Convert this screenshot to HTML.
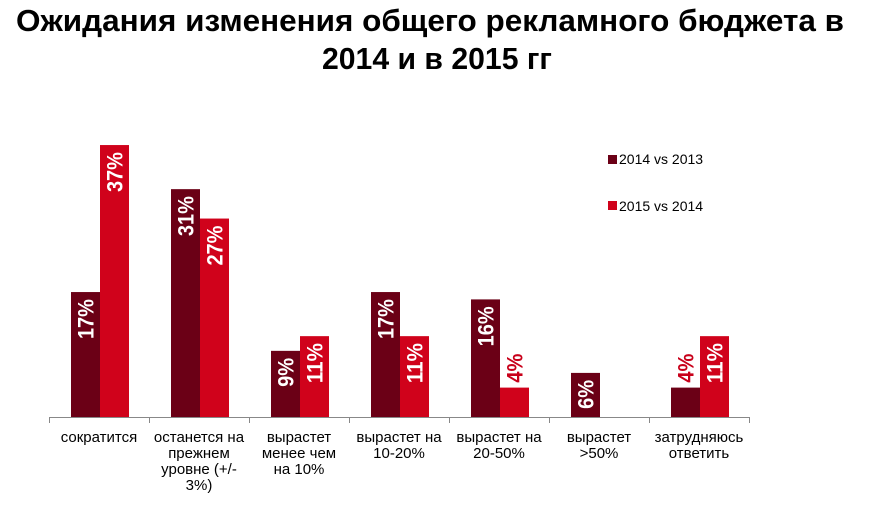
<!DOCTYPE html>
<html><head><meta charset="utf-8"><style>
html,body{margin:0;padding:0;background:#fff;}
svg{display:block;font-family:"Liberation Sans",Arial,sans-serif;}
</style></head><body>
<svg id="chart" width="891" height="508" viewBox="0 0 891 508" xmlns="http://www.w3.org/2000/svg">
<text x="430" y="31" text-anchor="middle" font-size="31" font-weight="bold" textLength="828" lengthAdjust="spacingAndGlyphs" fill="#000">Ожидания изменения общего рекламного бюджета в</text>
<text x="437" y="69" text-anchor="middle" font-size="31" font-weight="bold" textLength="230" lengthAdjust="spacingAndGlyphs" fill="#000">2014 и в 2015 гг</text>
<g id="plot"></g>
<g>
<rect x="608" y="155" width="9" height="9" fill="#6b0016"/>
<text x="619" y="164" font-size="14" fill="#000">2014 vs 2013</text>
<rect x="608" y="201" width="9" height="9" fill="#d0021b"/>
<text x="619" y="211" font-size="14" fill="#000">2015 vs 2014</text>
</g>
</svg>
<script>
const categories = [
  ["сократится"],
  ["останется на","прежнем","уровне (+/-","3%)"],
  ["вырастет","менее чем","на 10%"],
  ["вырастет на","10-20%"],
  ["вырастет на","20-50%"],
  ["вырастет",">50%"],
  ["затрудняюсь","ответить"]
];
const series2014 = [17, 31, 9, 17, 16, 6, 4];
const series2015 = [37, 27, 11, 11, 4, 0, 11];
const valueLabels2014 = ["17%","31%","9%","17%","16%","6%","4%"];
const valueLabels2015 = ["37%","27%","11%","11%","4%","","11%"];

const NS = "http://www.w3.org/2000/svg";
const plot = document.getElementById('plot');
const x0 = 49, groupW = 100, baseY = 417, pxPer = 7.35;
function xScale(i){ return x0 + i*groupW; }
function yScale(v){ return baseY - v*pxPer; }
function mk(tag, attrs){ const e = document.createElementNS(NS, tag); for (const k in attrs) e.setAttribute(k, attrs[k]); plot.appendChild(e); return e; }

function drawBar(i, v, lab, off, color, name){
  if (!v) return;
  const x = xScale(i) + off, y = yScale(v), w = 29;
  const r = mk('rect', {x: x, y: y, width: w, height: baseY - y, fill: color});
  
  
  const inside = v >= 5;
  const ty = inside ? y + 7 : y - 5;
  const tx = x + w/2 + 8;
  const len = lab.length === 3 ? 40 : 29;
  const t = mk('text', {x: tx, y: ty, transform: 'rotate(-90 ' + tx + ' ' + ty + ')', 'text-anchor': inside ? 'end' : 'start', 'font-size': 22, 'font-weight': 'bold', textLength: len, lengthAdjust: 'spacingAndGlyphs', fill: inside ? '#fff' : '#c8001a'});
  t.textContent = lab;
  
  
}

const axis = mk('line', {x1: x0, y1: baseY + 0.5, x2: xScale(categories.length), y2: baseY + 0.5, stroke: '#888', 'stroke-width': 1});


for (let i = 0; i <= categories.length; i++){
  const tk = mk('line', {x1: xScale(i) + 0.5, y1: baseY, x2: xScale(i) + 0.5, y2: baseY + 6, stroke: '#888', 'stroke-width': 1});
  
  
}
categories.forEach((lines, i) => {
  drawBar(i, series2014[i], valueLabels2014[i], 22, '#6b0016', 'bar-2014');
  drawBar(i, series2015[i], valueLabels2015[i], 51, '#d0021b', 'bar-2015');
  const t = mk('text', {x: xScale(i) + groupW/2, y: 442, 'text-anchor': 'middle', 'font-size': 15, fill: '#000'});
  
  
  lines.forEach((ln, k) => {
    const s = document.createElementNS(NS, 'tspan');
    s.setAttribute('x', xScale(i) + groupW/2);
    s.setAttribute('dy', k === 0 ? 0 : 16);
    s.textContent = ln;
    t.appendChild(s);
  });
});
</script>
</body></html>
